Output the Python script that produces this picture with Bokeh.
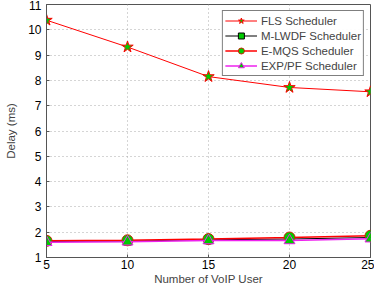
from bokeh.plotting import figure
from bokeh.models import Range1d, FixedTicker, Legend, LegendItem
from bokeh.embed import file_html
from bokeh.resources import INLINE

users = [5, 10, 15, 20, 25]
fls = [10.38, 9.32, 8.15, 7.72, 7.55]
mlwdf = [1.63, 1.65, 1.70, 1.73, 1.79]
emqs = [1.66, 1.68, 1.73, 1.79, 1.86]
exppf = [1.60, 1.62, 1.67, 1.67, 1.74]
y_ticks = list(range(1, 12))

p = figure(width=374, height=287, output_backend="svg", toolbar_location=None,
           x_range=Range1d(5, 25), y_range=Range1d(1, 11),
           min_border_left=46, min_border_right=4, min_border_top=4, min_border_bottom=30)
p.outline_line_color = "#555555"
p.xaxis.ticker = FixedTicker(ticks=users)
p.yaxis.ticker = FixedTicker(ticks=y_ticks)
for ax in (p.xaxis[0], p.yaxis[0]):
    ax.major_label_text_font = "Liberation Sans"
    ax.major_label_text_font_size = "12px"
    ax.major_label_text_color = "black"
    ax.axis_label_text_font = "Liberation Sans"
    ax.axis_label_text_font_size = "11.5px"
    ax.axis_label_text_font_style = "normal"
    ax.axis_line_color = "#555555"
    ax.major_tick_line_color = "#555555"
    ax.major_tick_in = 3
    ax.major_tick_out = 0
    ax.minor_tick_line_color = None
p.xaxis.axis_label = "Number of VoIP User"
p.yaxis.axis_label = "Delay (ms)"
p.xaxis.axis_label_standoff = 1
p.yaxis.axis_label_standoff = 8
p.xaxis.major_label_standoff = 2
p.grid.grid_line_color = "#aaaaaa"
p.grid.grid_line_dash = "1 3"

l1 = p.line(users, fls, line_color="red", line_width=1)
m1 = p.scatter(users, fls, marker="star", size=12, fill_color="#00cc00", line_color="red", line_width=1)
l2 = p.line(users, mlwdf, line_color="black", line_width=1)
m2 = p.scatter(users, mlwdf, marker="square", size=8, fill_color="#00cc00", line_color="black", line_width=1)
l3 = p.line(users, emqs, line_color="red", line_width=1.5)
m3 = p.scatter(users, emqs, marker="circle", size=11, fill_color="#00cc00", line_color="#cc2200", line_width=1)
l4 = p.line(users, exppf, line_color="#ee22ee", line_width=1.5)
m4 = p.scatter(users, exppf, marker="triangle", size=11, fill_color="#00cc00", line_color="#ee22ee", line_width=1)

legend = Legend(items=[
    LegendItem(label="FLS Scheduler", renderers=[l1, m1]),
    LegendItem(label="M-LWDF Scheduler", renderers=[l2, m2]),
    LegendItem(label="E-MQS Scheduler", renderers=[l3, m3]),
    LegendItem(label="EXP/PF Scheduler", renderers=[l4, m4]),
], location="top_right")
legend.label_text_font = "Liberation Sans"
legend.label_text_font_size = "11.5px"
legend.label_height = 14
legend.glyph_height = 15
legend.glyph_width = 32
legend.spacing = 0
legend.padding = 2
legend.margin = 6
legend.border_line_color = "black"
legend.label_standoff = 4
p.add_layout(legend)

open("out.html", "w").write(file_html(p, INLINE))
